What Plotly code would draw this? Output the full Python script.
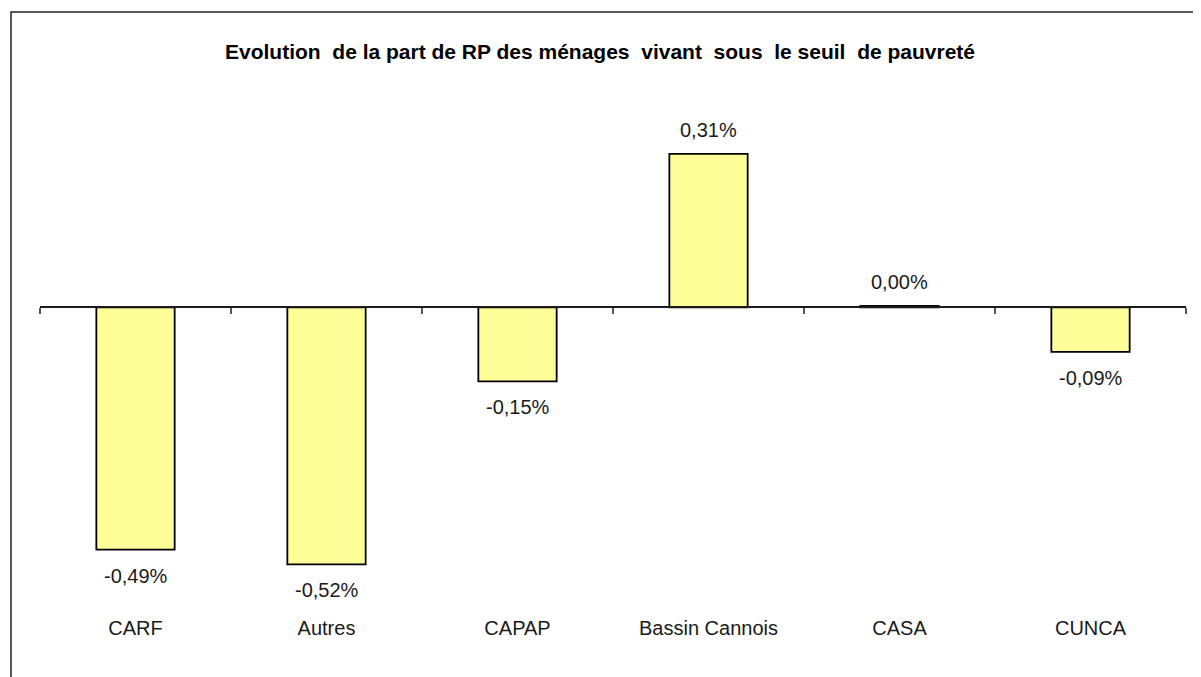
import plotly.graph_objects as go

categories = ["CARF", "Autres", "CAPAP", "Bassin Cannois", "CASA", "CUNCA"]
values = [-0.49, -0.52, -0.15, 0.31, 0.003, -0.09]  # percent
title_text = "Evolution  de la part de RP des ménages  vivant  sous  le seuil  de pauvreté"

# the page body adds an 8 px offset; layout is expressed in page pixels
OFF = 8
W, H = 1201, 677
plot_left, plot_right, plot_top, plot_bottom = 40, 1186, 60, 604
L = plot_left - OFF
T = plot_top - OFF
R = W - (plot_right - OFF)
B = H - (plot_bottom - OFF)
y_range = [-0.6, 0.5]
plot_w = W - L - R
plot_h = H - T - B

FONT = "Liberation Sans, Arial, sans-serif"


def fx(px):
    return (px - OFF - L) / plot_w


def fy(py):
    return (H - B - (py - OFF)) / plot_h


def fmt(v):
    return f"{v:.2f}".replace(".", ",") + "%"


n = len(categories)
fig = go.Figure()
fig.add_trace(go.Bar(
    x=categories, y=values,
    width=0.41,
    marker=dict(color="#FFFF99", line=dict(color="#000000", width=1.8)),
    hoverinfo="x+y",
    showlegend=False,
))
# dummy trace carrying the bottom category labels
fig.add_trace(go.Scatter(
    x=categories, y=[None] * n, xaxis="x2", mode="markers",
    showlegend=False, hoverinfo="skip",
))

zero_pos = (0 - y_range[0]) / (y_range[1] - y_range[0])

annotations = []
for c, v in zip(categories, values):
    annotations.append(dict(
        x=c, y=v, xref="x", yref="y", text=fmt(v), showarrow=False,
        yanchor="middle", yshift=(24 if v >= 0 else -26),
        font=dict(family=FONT, size=20, color="#1a1a1a"),
    ))

fig.update_layout(
    width=W, height=H,
    margin=dict(l=L, r=R, t=T, b=B, pad=0),
    paper_bgcolor="white", plot_bgcolor="white",
    separators=", ",
    title=dict(
        text=title_text, x=(600 - OFF) / W, xref="container", xanchor="center",
        y=1 - (52 - OFF) / H, yref="container", yanchor="middle",
        font=dict(family=FONT, size=21, color="#000000", weight="bold"),
    ),
    xaxis=dict(
        type="category", range=[-0.5, n - 0.5],
        anchor="free", position=zero_pos,
        showline=True, linecolor="#1a1a1a", linewidth=1.5,
        ticks="outside", tickson="boundaries", ticklen=6, tickwidth=1.5,
        tickcolor="#555555",
        showticklabels=False, showgrid=False, zeroline=False,
    ),
    xaxis2=dict(
        type="category", range=[-0.5, n - 0.5], overlaying="x",
        anchor="y", side="bottom",
        showline=False, ticks="", showgrid=False, zeroline=False,
        ticklabelstandoff=10,
        tickfont=dict(family=FONT, size=20, color="#1a1a1a"),
    ),
    yaxis=dict(
        range=y_range, showgrid=False, zeroline=False,
        showticklabels=False, showline=False, ticks="",
    ),
    annotations=annotations,
    shapes=[dict(
        type="path", xref="paper", yref="paper",
        path=f"M {fx(11)} {fy(H + 20)} L {fx(11)} {fy(12)} L {fx(W + 20)} {fy(12)}",
        line=dict(color="#222222", width=1.5),
    )],
)

fig.write_html("out.html")
